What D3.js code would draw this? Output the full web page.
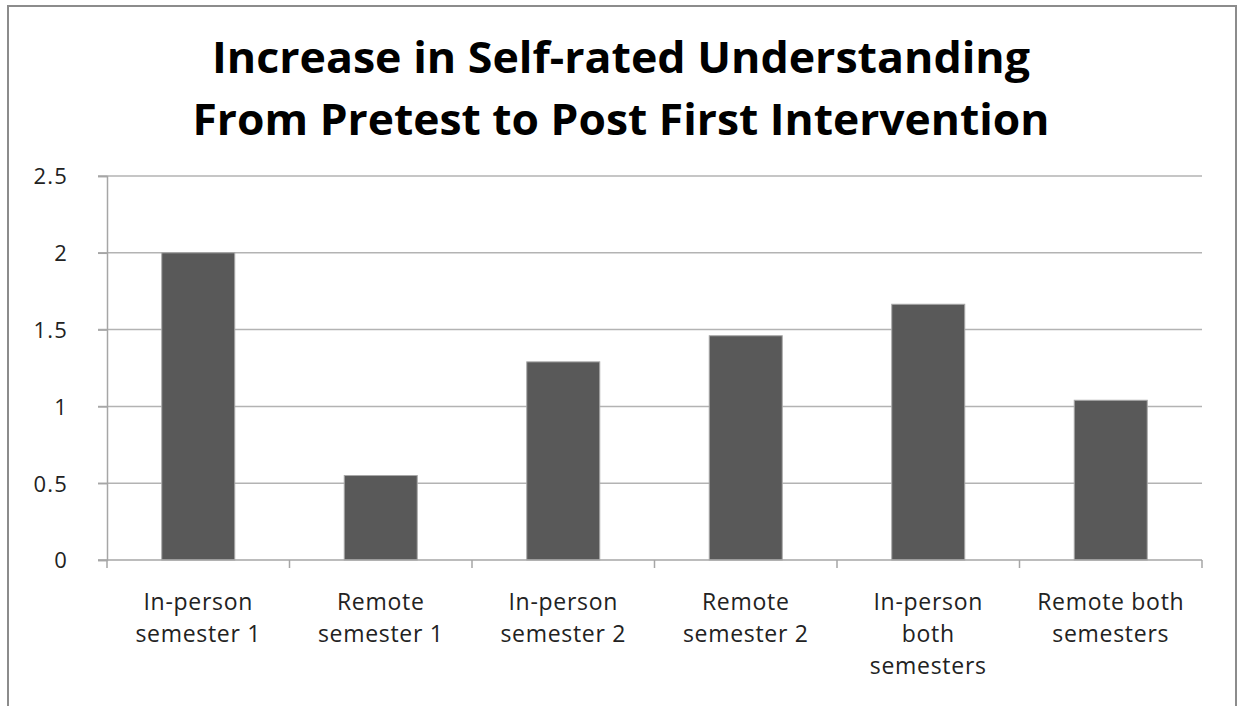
<!DOCTYPE html>
<html>
<head>
<meta charset="utf-8">
<script src="https://cdn.jsdelivr.net/npm/d3@7"></script>
<style>
  html, body { margin: 0; padding: 0; background: #fff; }
  svg { display: block; }
</style>
</head>
<body>
<svg id="chart" width="1243" height="706"></svg>
<script>
const titleLines = ["Increase in Self-rated Understanding", "From Pretest to Post First Intervention"];
const categories = ["In-person semester 1", "Remote semester 1", "In-person semester 2", "Remote semester 2", "In-person both semesters", "Remote both semesters"];
const categoryLines = [["In-person", "semester 1"], ["Remote", "semester 1"], ["In-person", "semester 2"], ["Remote", "semester 2"], ["In-person", "both", "semesters"], ["Remote both", "semesters"]];
const values = [2.0, 0.55, 1.29, 1.46, 1.665, 1.04];
const yTicks = [0, 0.5, 1, 1.5, 2, 2.5];

const svg = d3.select("#chart");
const W = 1243, H = 706;
const margin = { left: 107, right: 1202, top: 176, bottom: 560 };

svg.append("rect").attr("width", W).attr("height", H).attr("fill", "#fff");
// outer frame
svg.append("rect")
  .attr("x", 8).attr("y", 6).attr("width", 1228).attr("height", 720)
  .attr("fill", "none").attr("stroke", "#8c8c8c").attr("stroke-width", 2);

// title
const titleWidths = [818, 857];
const titleY = [73, 135];
titleLines.forEach((t, i) => {
  svg.append("text")
    .attr("x", 621).attr("y", titleY[i])
    .attr("text-anchor", "middle")
    .attr("font-family", "'Open Sans', sans-serif")
    .attr("font-weight", "bold")
    .attr("font-size", 43)
    .attr("fill", "#000")
    .attr("textLength", titleWidths[i])
    .attr("lengthAdjust", "spacingAndGlyphs")
    .text(t);
});

const x = d3.scaleBand().domain(categories).range([margin.left, margin.right]).paddingInner(0.6).paddingOuter(0.3);
const xOuter = d3.scaleBand().domain(categories).range([margin.left, margin.right]);
const y = d3.scaleLinear().domain([0, 2.5]).range([margin.bottom, margin.top]);

// gridlines
svg.append("g")
  .selectAll("line").data(yTicks.filter(d => d > 0)).join("line")
  .attr("x1", margin.left - 9).attr("x2", margin.right)
  .attr("y1", d => y(d)).attr("y2", d => y(d))
  .attr("stroke", "#b3b3b3").attr("stroke-width", 1.5);

// y axis
const yAxis = svg.append("g").attr("transform", `translate(${margin.left},0)`)
  .call(d3.axisLeft(y).tickValues(yTicks).tickSize(9).tickPadding(30).tickFormat(d3.format("")));
yAxis.select(".domain").attr("stroke", "#a6a6a6").attr("stroke-width", 1.5);
yAxis.selectAll(".tick line").attr("stroke", "#a6a6a6").attr("stroke-width", 1.5);
yAxis.selectAll(".tick text")
  .attr("font-family", "'Open Sans', sans-serif").attr("font-size", 22)
  .attr("letter-spacing", 1.2)
  .attr("fill", "#222").attr("dy", "0.36em");

// bars
svg.append("g").selectAll("rect").data(values).join("rect")
  .attr("x", (d, i) => x(categories[i]))
  .attr("width", x.bandwidth())
  .attr("y", d => y(d))
  .attr("height", d => y(0) - y(d))
  .attr("fill", "#595959")
  .attr("stroke", "#a8a8a8").attr("stroke-width", 1);

// x axis
const xAxisG = svg.append("g").attr("transform", `translate(0,${margin.bottom})`);
xAxisG.append("line").attr("x1", margin.left - 9).attr("x2", margin.right)
  .attr("y1", 0).attr("y2", 0).attr("stroke", "#a6a6a6").attr("stroke-width", 1.5);
const bounds = categories.map(c => xOuter(c)).concat([margin.right]);
xAxisG.selectAll("line.tk").data(bounds).join("line").attr("class", "tk")
  .attr("x1", d => d).attr("x2", d => d).attr("y1", 0).attr("y2", 8)
  .attr("stroke", "#a6a6a6").attr("stroke-width", 1.5);

// category labels
const lab = svg.append("g");
categoryLines.forEach((lines, i) => {
  const cx = xOuter(categories[i]) + xOuter.bandwidth() / 2;
  lines.forEach((ln, j) => {
    lab.append("text")
      .attr("x", cx).attr("y", 610 + j * 32)
      .attr("text-anchor", "middle")
      .attr("font-family", "'Open Sans', sans-serif").attr("font-size", 23)
      .attr("letter-spacing", 0.7)
      .attr("fill", "#222")
      .text(ln);
  });
});
</script>
</body>
</html>
